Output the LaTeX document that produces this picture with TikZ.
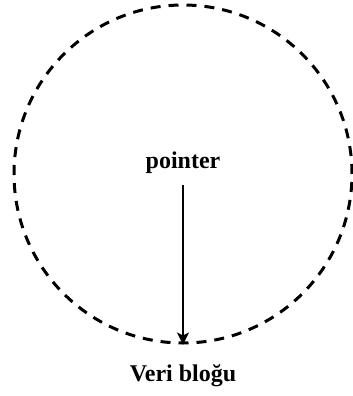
\documentclass[tikz,border=0pt]{standalone}
\usepackage{fontspec}
\setmainfont{Liberation Serif}
\usetikzlibrary{arrows.meta}
\begin{document}
\begin{tikzpicture}[x=0.5pt,y=-0.5pt,
    lbl/.style={font=\fontsize{12}{14}\selectfont\bfseries},
    blobline/.style={draw,circle,inner sep=0pt,minimum size=169pt,
      line width=1.5pt,dash pattern=on 5pt off 4pt}]
    \useasboundingbox (0,0) rectangle (353,396);
    \node[blobline] (blob) at (183,174) {};
    \node[lbl] (ptr) at (183,163) {pointer};
    \node[lbl] (veri) at (183,376) {Veri bloğu};
    \draw[-{Stealth[length=6pt,width=6pt,inset=1.5pt]},line width=0.7pt,shorten <=2pt]
      (ptr.south) -- (blob.south);
  \end{tikzpicture}
\end{document}
